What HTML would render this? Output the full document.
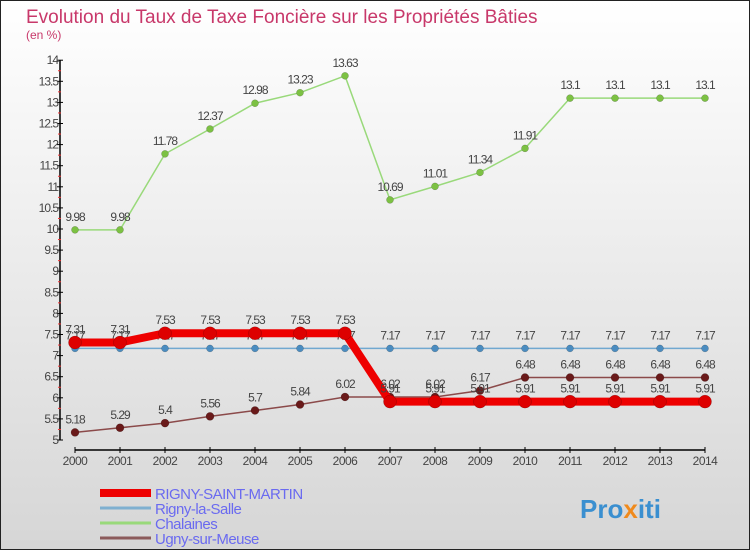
<!DOCTYPE html>
<html><head><meta charset="utf-8"><style>
body{margin:0;width:750px;height:550px;overflow:hidden;font-family:"Liberation Sans",sans-serif}
#c{position:absolute;left:0;top:0;width:748px;height:548px;border:1px solid #222;background:linear-gradient(#ffffff,#d6d6d6)}
</style></head><body>
<div id="c">
<svg id="s" width="750" height="550" style="position:absolute;left:-1px;top:-1px">
<text x="26" y="23" font-size="19" fill="#c8386a">Evolution du Taux de Taxe Foncière sur les Propriétés Bâties</text>
<text x="26" y="39" font-size="12" fill="#c8386a">(en %)</text>
<text x="580" y="518" font-size="26" font-weight="bold" fill="#3a8fd0">Pro<tspan fill="#f08a1c">x</tspan>iti</text>
</svg>
</div>
<script>
const years=[2000,2001,2002,2003,2004,2005,2006,2007,2008,2009,2010,2011,2012,2013,2014];
const yTicks=[5,5.5,6,6.5,7,7.5,8,8.5,9,9.5,10,10.5,11,11.5,12,12.5,13,13.5,14];
const rigny=[7.31,7.31,7.53,7.53,7.53,7.53,7.53,5.91,5.91,5.91,5.91,5.91,5.91,5.91,5.91];
const rignySalle=[7.17,7.17,7.17,7.17,7.17,7.17,7.17,7.17,7.17,7.17,7.17,7.17,7.17,7.17,7.17];
const chalaines=[9.98,9.98,11.78,12.37,12.98,13.23,13.63,10.69,11.01,11.34,11.91,13.1,13.1,13.1,13.1];
const ugny=[5.18,5.29,5.4,5.56,5.7,5.84,6.02,6.02,6.02,6.17,6.48,6.48,6.48,6.48,6.48];
const seriesNames=["RIGNY-SAINT-MARTIN","Rigny-la-Salle","Chalaines","Ugny-sur-Meuse"];
const NS="http://www.w3.org/2000/svg",svg=document.getElementById('s');
const X=i=>75+i*45, Y=v=>440-(v-5)*42.2;
function el(t,a,p){const e=document.createElementNS(NS,t);for(const k in a)e.setAttribute(k,a[k]);(p||svg).appendChild(e);return e;}
// axes
const ya=el('line',{x1:60,y1:60,x2:60,y2:440,stroke:'#000','stroke-width':1.5});


yTicks.forEach((v,i)=>{
 el('line',{x1:57,x2:63,y1:Y(v),y2:Y(v),stroke:'#000'});
 if(i<yTicks.length-1)el('line',{x1:58,x2:61,y1:Y(v+0.25),y2:Y(v+0.25),stroke:'#e33'});
 const t=el('text',{x:58,y:Y(v)+4,'font-size':12,'text-anchor':'end',fill:'#444','letter-spacing':'-1'});
 t.textContent=v;
 
 
});
const xa=el('line',{x1:75,y1:450,x2:705,y2:450,stroke:'#000','stroke-width':1.5});


years.forEach((y,i)=>{
 el('line',{x1:X(i),x2:X(i),y1:447,y2:453,stroke:'#000'});
 const t=el('text',{x:X(i),y:465,'font-size':12,'text-anchor':'middle',fill:'#444','letter-spacing':'-0.5'});
 t.textContent=y;
 
 
});
function series(vals,color,w,r,dot,name,labels){
 const g=el('g',{});
 
 
 el('polyline',{points:vals.map((v,i)=>X(i)+','+Y(v)).join(' '),fill:'none',stroke:color,'stroke-width':w},g);
 vals.forEach((v,i)=>{
  const c=el('circle',{cx:X(i),cy:Y(v),r:r,fill:dot,stroke:'rgba(0,0,0,0.3)','stroke-width':0.5},g);
  
  
  if(labels){const t=el('text',{x:X(i),y:Y(v)-9,'font-size':12,'text-anchor':'middle',fill:'#444','letter-spacing':'-1'},g);t.textContent=v;}
 });
}
series(chalaines,'#99d97a',1.5,3.5,'#7cc143','series-chalaines',true);
series(rignySalle,'#70a8d0',1.5,3.5,'#4a8cc0','series-rigny-la-salle',true);
series(ugny,'#8b4a4a',1.5,4,'#6a1a1a','series-ugny-sur-meuse',true);
series(rigny,'#ee0000',8,6.5,'#dd0000','series-rigny-saint-martin',true);
// legend
const lc=['#ee0000','#7fb0d0','#99d97a','#8b5a5a'],lw=[8,3,3,3];
seriesNames.forEach((n,i)=>{
 const y=493+i*15;
 const g=el('g',{});
 
 
 el('line',{x1:100,x2:151,y1:y,y2:y,stroke:lc[i],'stroke-width':lw[i]},g);
 const t=el('text',{x:155,y:y+6,'font-size':15,fill:'#6a6af0','letter-spacing':'-0.5'},g);t.textContent=n;
});
</script>
</body></html>
